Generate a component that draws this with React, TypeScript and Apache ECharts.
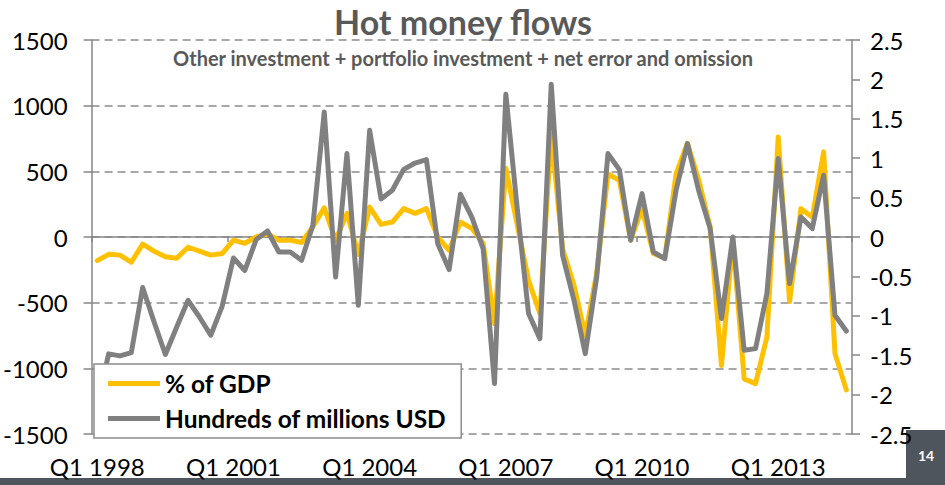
import React, { useEffect, useRef } from "react";
import * as echarts from "echarts";

const years = [1998, 1999, 2000, 2001, 2002, 2003, 2004, 2005, 2006, 2007, 2008, 2009, 2010, 2011, 2012, 2013, 2014];
const quarters = ["Q1", "Q2", "Q3", "Q4"];
const lastQuarterCount = 67;

const categories: string[] = [];
for (const y of years) {
  for (const q of quarters) {
    if (categories.length < lastQuarterCount) categories.push(`${q} ${y}`);
  }
}

// Hundreds of millions USD (left axis)
const usdHundredMillions = [
  -1290, -890, -905, -880, -385, -645, -895, -685, -482, -609, -748, -528,
  -160, -255, -20, 46, -114, -114, -177, 89, 952, -305, 635, -520,
  812, 290, 356, 515, 563, 589, -51, -248, 325, 152, -89, -1116,
  1086, 220, -583, -774, 1163, -140, -480, -888, -310, 635, 513, -25,
  330, -114, -165, 356, 711, 350, 64, -621, 0, -863, -850, -431,
  597, -355, 152, 64, 470, -596, -716,
];

// % of GDP (right axis)
const pctOfGdp = [
  -0.3, -0.22, -0.23, -0.32, -0.09, -0.18, -0.25, -0.27, -0.13, -0.18, -0.23, -0.21,
  -0.04, -0.08, 0.0, 0.04, -0.04, -0.04, -0.07, 0.13, 0.37, -0.04, 0.3, -0.22,
  0.38, 0.16, 0.19, 0.36, 0.3, 0.36, 0.0, -0.17, 0.19, 0.11, -0.08, -1.1,
  0.87, 0.16, -0.55, -0.97, 1.3, -0.15, -0.61, -1.25, -0.46, 0.8, 0.72, -0.04,
  0.36, -0.21, -0.27, 0.8, 1.19, 0.72, 0.13, -1.63, -0.04, -1.8, -1.86, -1.27,
  1.27, -0.82, 0.36, 0.25, 1.08, -1.48, -1.94,
];

const titleText = "Hot money flows";
const subtitleText = "Other investment + portfolio investment + net error and omission";
const seriesNames = ["% of GDP", "Hundreds of millions USD"];
const pageNumber = "14";

const FONT = "Lato, 'Open Sans', sans-serif";
const AXIS_GRAY = "#868686";

export default function App() {
  const ref = useRef<HTMLDivElement>(null);
  useEffect(() => {
    if (!ref.current) return;
    const chart = echarts.init(ref.current, null, { renderer: "svg" });
    chart.setOption({
      animation: false,
      textStyle: { fontFamily: FONT },
      grid: { left: 87, right: 93, top: 40, bottom: 51, containLabel: false },
      legend: {
        orient: "vertical",
        left: 94,
        top: 364,
        padding: [7, 15, 7, 14],
        itemGap: 10,
        itemWidth: 52,
        itemHeight: 5,
        icon: "rect",
        backgroundColor: "#ffffff",
        borderColor: "#8c8c8c",
        borderWidth: 1.5,
        borderRadius: 0,
        textStyle: { fontFamily: FONT, fontSize: 24.5, fontWeight: "bold", color: "#000", lineHeight: 24 },
        data: seriesNames,
      },
      xAxis: [
        {
          type: "category",
          data: categories,
          boundaryGap: true,
          position: "bottom",
          axisLine: { show: false, onZero: false },
          axisTick: { show: false },
          axisLabel: { interval: 11, fontSize: 24, fontFamily: FONT, color: "#000", margin: 20 },
          splitLine: { show: false },
        },
        {
          type: "category",
          data: categories,
          boundaryGap: true,
          position: "bottom",
          axisLine: { show: true, onZero: true, lineStyle: { color: AXIS_GRAY, width: 1.5 } },
          axisTick: { show: true, interval: 11, length: 5, lineStyle: { color: AXIS_GRAY, width: 1.5 } },
          axisLabel: { show: false },
          splitLine: { show: false },
        },
      ],
      yAxis: [
        {
          type: "value",
          min: -1500,
          max: 1500,
          interval: 500,
          position: "left",
          axisLine: { show: true, lineStyle: { color: AXIS_GRAY, width: 1.5 } },
          axisTick: { show: true, length: 8, lineStyle: { color: AXIS_GRAY, width: 1.5 } },
          axisLabel: { fontSize: 24, fontFamily: FONT, color: "#000", margin: 24, formatter: (v: number) => String(v) },
          splitLine: { show: true, lineStyle: { color: "#8c8c8c", type: [8, 5], width: 1.5 } },
        },
        {
          type: "value",
          min: -2.5,
          max: 2.5,
          interval: 0.5,
          position: "right",
          axisLine: { show: true, lineStyle: { color: AXIS_GRAY, width: 1.5 } },
          axisTick: { show: true, length: 8, lineStyle: { color: AXIS_GRAY, width: 1.5 } },
          axisLabel: { fontSize: 24, fontFamily: FONT, color: "#000", margin: 18, formatter: (v: number) => String(v) },
          splitLine: { show: false },
        },
      ],
      series: [
        {
          name: seriesNames[0],
          type: "line",
          xAxisIndex: 0,
          yAxisIndex: 1,
          data: pctOfGdp,
          symbol: "none",
          lineStyle: { color: "#FFC000", width: 5, join: "round", cap: "round" },
          itemStyle: { color: "#FFC000" },
          z: 2,
        },
        {
          name: seriesNames[1],
          type: "line",
          xAxisIndex: 0,
          yAxisIndex: 0,
          data: usdHundredMillions,
          symbol: "none",
          lineStyle: { color: "#808080", width: 5, join: "round", cap: "round" },
          itemStyle: { color: "#808080" },
          z: 3,
        },
      ],
      graphic: [
        {
          type: "text",
          x: 463,
          y: 21,
          style: {
            text: titleText,
            textAlign: "center",
            textVerticalAlign: "middle",
            fontFamily: FONT,
            fontSize: 34,
            fontWeight: "bold",
            fill: "#595959",
          },
        },
        {
          type: "text",
          x: 463,
          y: 58,
          style: {
            text: subtitleText,
            textAlign: "center",
            textVerticalAlign: "middle",
            fontFamily: FONT,
            fontSize: 20,
            fontWeight: "bold",
            fill: "#595959",
          },
        },
        { type: "rect", shape: { x: 0, y: 478, width: 945, height: 7 }, style: { fill: "#4f555c" } },
        { type: "rect", shape: { x: 906, y: 430, width: 39, height: 55 }, style: { fill: "#4f555c" } },
        {
          type: "text",
          x: 926,
          y: 455,
          style: {
            text: pageNumber,
            textAlign: "center",
            textVerticalAlign: "middle",
            fontFamily: FONT,
            fontSize: 14,
            fontWeight: "bold",
            fill: "#ffffff",
          },
        },
      ],
    });
    return () => chart.dispose();
  }, []);
  return (
    <div
      ref={ref}
      style={{ position: "fixed", left: 0, top: 0, width: 945, height: 485, background: "#fff" }}
    />
  );
}
